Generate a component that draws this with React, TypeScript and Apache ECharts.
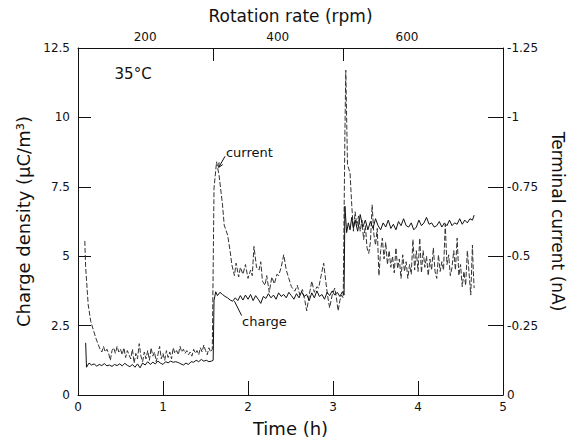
import React, { useEffect, useRef } from "react";
import * as echarts from "echarts";

// Charge density (µC/m³) vs time (h)
const chargeData: [number, number][] = [
  [0.09, 1.88], [0.10, 1.0], [0.13, 1.15], [0.16, 1.08], [0.19, 1.12], [0.22, 1.04], [0.25, 1.1], [0.28, 1.06],
  [0.31, 1.13], [0.34, 1.05], [0.37, 1.08], [0.40, 1.03], [0.43, 1.1], [0.46, 1.06], [0.49, 1.12], [0.52, 1.05],
  [0.55, 1.14], [0.58, 1.07], [0.61, 1.02], [0.64, 1.1], [0.67, 1.0], [0.70, 1.12], [0.73, 0.98], [0.76, 1.15],
  [0.79, 1.08], [0.82, 1.2], [0.85, 1.1], [0.88, 1.18], [0.91, 1.12], [0.94, 1.22], [0.97, 1.15], [1.00, 1.1],
  [1.03, 1.2], [1.06, 1.16], [1.09, 1.22], [1.12, 1.18], [1.15, 1.2], [1.18, 1.17], [1.21, 1.12], [1.24, 1.08],
  [1.27, 1.15], [1.30, 1.1], [1.33, 1.2], [1.36, 1.18], [1.39, 1.25], [1.42, 1.2], [1.45, 1.28], [1.48, 1.22],
  [1.51, 1.25], [1.54, 1.2], [1.57, 1.22],
  [1.59, 1.25], [1.60, 3.4], [1.62, 3.72], [1.64, 3.58], [1.67, 3.7], [1.70, 3.62], [1.73, 3.55], [1.76, 3.5],
  [1.79, 3.42], [1.82, 3.38], [1.85, 3.5], [1.88, 3.4], [1.91, 3.58], [1.94, 3.42], [1.97, 3.6], [2.00, 3.45],
  [2.03, 3.62], [2.06, 3.4], [2.09, 3.58], [2.12, 3.45], [2.15, 3.3], [2.18, 3.55], [2.21, 3.48], [2.24, 3.65],
  [2.27, 3.5], [2.30, 3.6], [2.33, 3.45], [2.36, 3.68], [2.39, 3.55], [2.42, 3.62], [2.45, 3.5], [2.48, 3.7],
  [2.51, 3.58], [2.54, 3.45], [2.57, 3.65], [2.60, 3.5], [2.63, 3.72], [2.66, 3.55], [2.69, 3.62], [2.72, 3.4],
  [2.75, 3.68], [2.78, 3.5], [2.81, 3.75], [2.84, 3.55], [2.87, 3.62], [2.90, 3.45], [2.93, 3.7], [2.96, 3.58],
  [2.99, 3.75], [3.02, 3.6], [3.05, 3.7], [3.08, 3.55], [3.11, 3.72], [3.13, 3.6],
  [3.14, 6.8], [3.16, 5.85], [3.18, 6.2], [3.20, 5.95], [3.22, 6.4], [3.24, 6.0], [3.26, 6.3], [3.29, 5.9],
  [3.32, 6.5], [3.35, 6.05], [3.38, 6.3], [3.41, 5.95], [3.44, 6.25], [3.47, 6.0], [3.50, 6.35], [3.53, 6.1],
  [3.56, 5.95], [3.59, 6.2], [3.62, 6.05], [3.65, 6.3], [3.68, 6.0], [3.71, 6.15], [3.74, 5.95], [3.77, 6.25],
  [3.80, 6.1], [3.83, 6.35], [3.86, 6.1], [3.89, 6.05], [3.92, 6.2], [3.95, 5.95], [3.98, 6.05], [4.01, 6.3],
  [4.04, 6.1], [4.07, 6.2], [4.10, 6.4], [4.13, 6.15], [4.16, 6.2], [4.19, 6.05], [4.22, 6.1], [4.25, 6.25],
  [4.28, 6.05], [4.31, 6.2], [4.34, 6.1], [4.37, 6.3], [4.40, 6.1], [4.43, 6.2], [4.46, 6.15], [4.49, 6.35],
  [4.52, 6.15], [4.55, 6.3], [4.58, 6.2], [4.61, 6.35], [4.64, 6.3], [4.66, 6.48],
];

// Terminal current (nA) vs time (h)
const currentData: [number, number][] = [
  [0.08, -0.555], [0.09, -0.46], [0.12, -0.325], [0.15, -0.265], [0.18, -0.235], [0.21, -0.205], [0.24, -0.18],
  [0.26, -0.165], [0.28, -0.155], [0.30, -0.175], [0.32, -0.155], [0.34, -0.165], [0.36, -0.15], [0.38, -0.125],
  [0.40, -0.16], [0.42, -0.17], [0.44, -0.15], [0.46, -0.175], [0.48, -0.155], [0.50, -0.165], [0.52, -0.145],
  [0.54, -0.17], [0.56, -0.135], [0.58, -0.16], [0.60, -0.145], [0.62, -0.13], [0.64, -0.165], [0.66, -0.115],
  [0.68, -0.15], [0.70, -0.13], [0.72, -0.185], [0.74, -0.14], [0.76, -0.12], [0.78, -0.155], [0.80, -0.13],
  [0.82, -0.16], [0.84, -0.125], [0.86, -0.17], [0.88, -0.14], [0.90, -0.155], [0.92, -0.12], [0.94, -0.145],
  [0.96, -0.175], [0.98, -0.13], [1.00, -0.15], [1.02, -0.125], [1.04, -0.16], [1.06, -0.135], [1.08, -0.155],
  [1.10, -0.13], [1.12, -0.17], [1.14, -0.15], [1.16, -0.16], [1.18, -0.145], [1.20, -0.175], [1.22, -0.155],
  [1.24, -0.165], [1.26, -0.15], [1.28, -0.16], [1.30, -0.145], [1.32, -0.155], [1.34, -0.14], [1.36, -0.165],
  [1.38, -0.15], [1.40, -0.16], [1.42, -0.145], [1.44, -0.17], [1.46, -0.155], [1.48, -0.18], [1.50, -0.16],
  [1.52, -0.145], [1.54, -0.17], [1.56, -0.155], [1.58, -0.165],
  [1.60, -0.745], [1.63, -0.84], [1.66, -0.79], [1.70, -0.685], [1.72, -0.612], [1.76, -0.576], [1.79, -0.517],
  [1.81, -0.469], [1.84, -0.43], [1.86, -0.475], [1.89, -0.425], [1.91, -0.46], [1.94, -0.435], [1.97, -0.47],
  [2.00, -0.42], [2.03, -0.45], [2.05, -0.43], [2.07, -0.535], [2.10, -0.46], [2.13, -0.45], [2.15, -0.48],
  [2.17, -0.41], [2.20, -0.395], [2.22, -0.43], [2.25, -0.37], [2.28, -0.425], [2.31, -0.40], [2.34, -0.435],
  [2.36, -0.43], [2.39, -0.46], [2.42, -0.505], [2.45, -0.45], [2.48, -0.42], [2.51, -0.39], [2.55, -0.374],
  [2.58, -0.395], [2.61, -0.36], [2.64, -0.38], [2.67, -0.338], [2.69, -0.303], [2.72, -0.36], [2.75, -0.41],
  [2.78, -0.37], [2.81, -0.39], [2.83, -0.385], [2.86, -0.43], [2.89, -0.475], [2.92, -0.396], [2.94, -0.35],
  [2.96, -0.314], [2.99, -0.36], [3.02, -0.385], [3.04, -0.35], [3.06, -0.303], [3.08, -0.34], [3.10, -0.36],
  [3.12, -0.35],
  [3.14, -0.95], [3.15, -1.17], [3.17, -0.83], [3.20, -0.80], [3.22, -0.685], [3.24, -0.59], [3.26, -0.66],
  [3.28, -0.61], [3.30, -0.645], [3.32, -0.59], [3.34, -0.63], [3.36, -0.56], [3.38, -0.61], [3.40, -0.53],
  [3.42, -0.51], [3.44, -0.55], [3.46, -0.685], [3.48, -0.58], [3.50, -0.54], [3.52, -0.60], [3.54, -0.43],
  [3.56, -0.52], [3.58, -0.565], [3.60, -0.49], [3.62, -0.55], [3.64, -0.47], [3.66, -0.52], [3.68, -0.46],
  [3.70, -0.50], [3.72, -0.44], [3.74, -0.53], [3.76, -0.455], [3.78, -0.49], [3.80, -0.42], [3.82, -0.505],
  [3.84, -0.445], [3.86, -0.48], [3.88, -0.42], [3.90, -0.47], [3.92, -0.435], [3.94, -0.56], [3.96, -0.45],
  [3.98, -0.52], [4.00, -0.445], [4.02, -0.565], [4.04, -0.44], [4.06, -0.52], [4.08, -0.46], [4.10, -0.50],
  [4.12, -0.43], [4.14, -0.49], [4.16, -0.45], [4.18, -0.53], [4.20, -0.445], [4.22, -0.42], [4.24, -0.505],
  [4.26, -0.445], [4.28, -0.48], [4.30, -0.45], [4.32, -0.615], [4.34, -0.47], [4.36, -0.505], [4.38, -0.43],
  [4.40, -0.46], [4.42, -0.52], [4.44, -0.45], [4.46, -0.565], [4.48, -0.43], [4.50, -0.47], [4.52, -0.39],
  [4.54, -0.445], [4.56, -0.395], [4.58, -0.52], [4.60, -0.44], [4.62, -0.36], [4.64, -0.54], [4.65, -0.445],
  [4.66, -0.385],
];

// Top axis: rotation-rate segments
const rpmBoundaries = [1.59, 3.125];
const rpmLabelPos = [0.79, 2.35, 3.87];
const rpmLabels = ["200", "400", "600"];

// Annotations (data coordinates on the left axis)
const tempLabel = { text: "35°C", at: [0.43, 11.55] };
const currentLabel = { text: "current", at: [1.74, 8.75], leader: [[1.73, 8.6], [1.655, 8.2]] };
const chargeLabel = { text: "charge", at: [1.93, 2.66], leader: [[1.84, 3.38], [1.925, 2.86]] };

const FONT = "DejaVu Sans";
const INK = "#111";

export default function App() {
  const ref = useRef<HTMLDivElement>(null);
  useEffect(() => {
    if (!ref.current) return;
    const chart = echarts.init(ref.current, undefined, { renderer: "svg" });
    const axisLine = { show: true, onZero: false, lineStyle: { color: INK, width: 1 } };
    const label = { color: INK, fontSize: 12, fontFamily: FONT };
    const nameStyle = (size: number) => ({ color: INK, fontSize: size, fontFamily: FONT });
    chart.setOption({
      animation: false,
      backgroundColor: "#fff",
      textStyle: { fontFamily: FONT },
      grid: { left: 78, top: 48, width: 428, height: 349.5 },
      xAxis: [
        {
          type: "value", position: "bottom", min: 0, max: 5, interval: 1,
          axisLine, axisTick: { inside: true, length: 14, lineStyle: { color: INK } },
          axisLabel: { ...label, margin: 6 }, splitLine: { show: false },
          name: "Time (h)", nameLocation: "middle", nameGap: 24, nameTextStyle: nameStyle(18),
        },
        {
          type: "value", position: "top", min: 0, max: 5,
          axisLine,
          axisTick: { inside: true, length: 13, lineStyle: { color: INK }, customValues: rpmBoundaries },
          axisLabel: {
            ...label, margin: 5, customValues: rpmLabelPos,
            formatter: (v: number) => {
              const i = rpmLabelPos.findIndex((p) => Math.abs(p - v) < 1e-6);
              return i >= 0 ? rpmLabels[i] : "";
            },
          },
          splitLine: { show: false },
          name: "Rotation rate (rpm)", nameLocation: "middle", nameGap: 24, nameTextStyle: nameStyle(17),
        },
      ],
      yAxis: [
        {
          type: "value", position: "left", min: 0, max: 12.5, interval: 2.5,
          axisLine, axisTick: { inside: true, length: 13, lineStyle: { color: INK } },
          axisLabel: { ...label, margin: 8 }, splitLine: { show: false },
          name: "Charge density (µC/m³)", nameLocation: "middle", nameGap: 40, nameTextStyle: nameStyle(18),
        },
        {
          type: "value", position: "right", min: -1.25, max: 0, interval: 0.25, inverse: true,
          axisLine, axisTick: { inside: true, length: 15, lineStyle: { color: INK } },
          axisLabel: { ...label, margin: 4 }, splitLine: { show: false },
          name: "Terminal current (nA)", nameLocation: "middle", nameGap: 42, nameRotate: -90,
          nameTextStyle: nameStyle(17),
        },
      ],
      series: [
        {
          name: "charge", type: "line", xAxisIndex: 0, yAxisIndex: 0, data: chargeData,
          showSymbol: false, lineStyle: { color: INK, width: 1 }, z: 3,
        },
        {
          name: "current", type: "line", xAxisIndex: 0, yAxisIndex: 1, data: currentData,
          showSymbol: false, lineStyle: { color: "#333", width: 1, type: [5, 2] }, z: 2,
        },
      ],
    });

    const px = (p: number[]) => chart.convertToPixel({ xAxisIndex: 0, yAxisIndex: 0 }, p) as number[];
    const textEl = (t: { text: string; at: number[] }, size: number) => {
      const [x, y] = px(t.at);
      return {
        type: "text", x, y,
        style: { text: t.text, fill: INK, font: `${size}px '${FONT}'`, textAlign: "left", textVerticalAlign: "middle" },
      };
    };
    const lineEl = (pts: number[][]) => {
      const a = px(pts[0]);
      const b = px(pts[1]);
      return { type: "line", shape: { x1: a[0], y1: a[1], x2: b[0], y2: b[1] }, style: { stroke: INK, lineWidth: 1 } };
    };
    const arrowHead = (pts: number[][]) => {
      const a = px(pts[0]);
      const b = px(pts[1]);
      const ang = Math.atan2(b[1] - a[1], b[0] - a[0]);
      const L = 5;
      const p1 = [b[0] - L * Math.cos(ang - 0.45), b[1] - L * Math.sin(ang - 0.45)];
      const p2 = [b[0] - L * Math.cos(ang + 0.45), b[1] - L * Math.sin(ang + 0.45)];
      return { type: "polyline", shape: { points: [p1, b, p2] }, style: { stroke: INK, lineWidth: 1, fill: null } };
    };
    chart.setOption({
      graphic: [
        textEl(tempLabel, 15),
        textEl(currentLabel, 13),
        lineEl(currentLabel.leader),
        arrowHead(currentLabel.leader),
        textEl(chargeLabel, 13),
        lineEl(chargeLabel.leader),
      ],
    });
    return () => chart.dispose();
  }, []);
  return <div ref={ref} style={{ position: "absolute", left: 0, top: 0, width: 574, height: 442 }} />;
}
